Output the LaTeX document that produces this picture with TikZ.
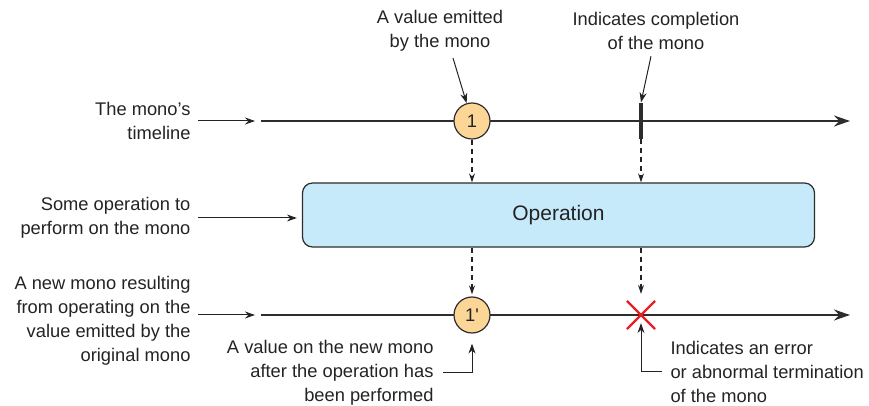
\documentclass[tikz,border=0pt]{standalone}
\usepackage{fontspec}
\setmainfont{Liberation Sans}
\usetikzlibrary{arrows.meta,positioning,calc,shapes.misc}
\definecolor{ink}{RGB}{35,35,35}
\definecolor{rule}{RGB}{45,45,45}
\definecolor{valfill}{RGB}{252,214,150}
\definecolor{opfill}{RGB}{199,234,250}
\definecolor{warn}{RGB}{237,28,36}
\tikzset{
  every picture/.style={color=ink, line width=0.5pt, font=\fontsize{9.15}{12}\selectfont},
  timeline/.style={-{Stealth[length=8pt,width=5.5pt]}, line width=0.8pt, draw=rule},
  val/.style={circle, draw=rule, fill=valfill, line width=0.6pt, minimum size=18pt, inner sep=0pt},
  tickmark/.style={fill=rule, minimum width=1.7pt, minimum height=18pt, inner sep=0pt},
  errx/.style={cross out, draw=warn, line width=1.1pt, minimum size=13pt, inner sep=0pt},
  opbox/.style={draw=rule, fill=opfill, rounded corners=5pt, line width=0.6pt, minimum width=256pt, minimum height=32pt, font=\fontsize{10.5}{12}\selectfont},
  flow/.style={-{Stealth[length=5pt,width=3.5pt]}, line width=0.5pt},
  pass/.style={-{Stealth[length=4.5pt,width=3pt]}, line width=0.6pt, dash pattern=on 2.5pt off 2pt},
  side/.style={align=right, anchor=east, inner sep=0pt},
  note/.style={align=center, inner sep=0pt},
  noteR/.style={align=right, anchor=east, inner sep=0pt},
  noteL/.style={align=left, anchor=west, inner sep=0pt},
}
\begin{document}
\begin{tikzpicture}[x=0.5pt, y=-0.5pt]
  \useasboundingbox (0,0) rectangle (869,406);
  \coordinate (t1s) at (261,121); \coordinate (t1e) at (850,121);
  \coordinate (t2s) at (261,315); \coordinate (t2e) at (850,315);
  \draw[timeline] (t1s) -- (t1e);
  \draw[timeline] (t2s) -- (t2e);
  \node[val] (v1) at (472,121) {1};
  \node[tickmark] (done) at (641,121) {};
  \node[opbox] (op) at (558.5,215) {Operation};
  \node[val] (v2) at (472,315) {1\textquotesingle};
  \node[errx] (err) at (641,315) {};
  % labels on the left
  \node[side, left=35pt of t1s] (tl) {The mono's\\timeline};
  \node[side, left=55.5pt of op, yshift=-1.5pt] (ol) {Some operation to\\perform on the mono};
  \node[side, left=35pt of t2s, yshift=-3pt] (nl) {A new mono resulting\\from operating on the\\value emitted by the\\original mono};
  \draw[flow, shorten <=3.5pt, shorten >=3pt] (tl) -- (t1s);
  \draw[flow, shorten <=3.5pt, shorten >=2.5pt] (ol.east) -- (ol.east -| op.west);
  \draw[flow, shorten <=3.5pt, shorten >=3pt] (nl.east |- t2s) -- (t2s);
  % through the operation
  \draw[pass] (v1) -- (v1 |- op.north);
  \draw[pass] (done) -- (done |- op.north);
  \draw[pass, shorten >=1pt] (v1 |- op.south) -- (v2);
  \draw[pass, shorten >=3.5pt] (done |- op.south) -- (err);
  % annotations
  \node[note] (emit) at (440,31) {A value emitted\\by the mono};
  \node[note] (fin) at (656,31) {Indicates completion\\of the mono};
  \draw[flow] ($(emit.south)+(13,6)$) -- (v1);
  \draw[flow] ($(fin.south)+(-5,6)$) -- (done.north);
  \node[noteR] (newv) at (434,373) {A value on the new mono\\after the operation has\\been performed};
  \node[noteL] (errn) at (670,372) {Indicates an error\\or abnormal termination\\of the mono};
  \draw[flow] ([xshift=4.5pt]newv.east) -| ([yshift=-5pt]v2.south);
  \draw[flow] ([xshift=-4pt]errn.west) -| ([yshift=3pt]err.south);
\end{tikzpicture}
\end{document}
